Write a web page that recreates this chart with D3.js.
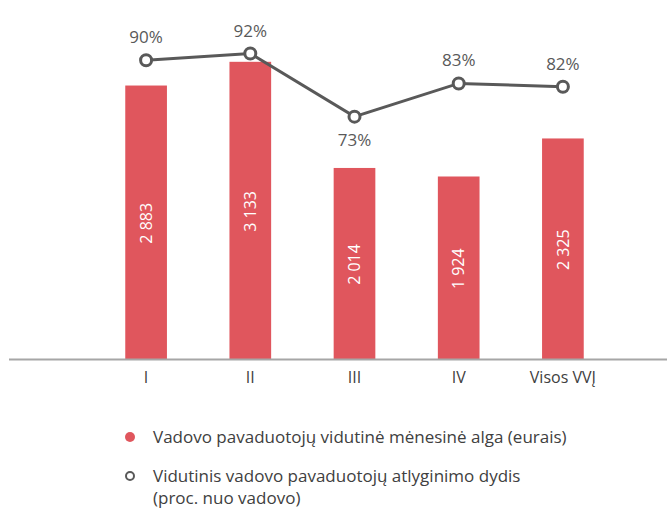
<!DOCTYPE html>
<html>
<head>
<meta charset="utf-8">
<script src="https://cdn.jsdelivr.net/npm/d3@7"></script>
<style>
  body { margin: 0; background: #fff; }
  svg text { font-family: "Open Sans", Lato, sans-serif; }
</style>
</head>
<body>
<div id="vis"></div>
<script>
'use strict';

// data
var categories = ['I', 'II', 'III', 'IV', 'Visos VVĮ'];
var salary = [2883, 3133, 2014, 1924, 2325];
var share = [0.90, 0.92, 0.73, 0.83, 0.82];
var shareLabelBelow = [false, false, true, false, false];
var legendLabels = [
    ['Vadovo pavaduotojų vidutinė mėnesinė alga (eurais)'],
    ['Vidutinis vadovo pavaduotojų atlyginimo dydis', '(proc. nuo vadovo)']
];

// layout
var W = 667, H = 510;
var baseY = 359, topY = 27;
var colors = { bar: '#E0565D', line: '#595959', text: '#404040', axis: '#A6A6A6' };

var svg = d3.select('#vis').append('svg')
    .attr('width', W)
    .attr('height', H);

var x = d3.scaleBand().domain(categories).range([94, 615]).paddingInner(0.6).paddingOuter(0.3);
var y = d3.scaleLinear().domain([0, 3500]).range([baseY, topY]);
var yPct = d3.scaleLinear().domain([0, 1]).range([baseY, topY]);

// bars
var bars = svg.append('g');
bars.selectAll('rect')
    .data(salary)
    .enter()
    .append('rect')
    .attr('x', function (d, i) { return x(categories[i]); })
    .attr('width', x.bandwidth())
    .attr('y', function (d) { return y(d); })
    .attr('height', function (d) { return baseY - y(d); })
    .attr('fill', colors.bar);

// value labels inside bars, rotated
bars.selectAll('text')
    .data(salary)
    .enter()
    .append('text')
    .attr('transform', function (d, i) {
        var cx = x(categories[i]) + x.bandwidth() / 2;
        var cy = (y(d) + baseY) / 2 + 1;
        return 'translate(' + cx + ',' + cy + ') rotate(-90)';
    })
    .attr('text-anchor', 'middle')
    .attr('dy', '0.35em')
    .attr('fill', '#fff')
    .style('font-size', '16px')
    .text(function (d) { return d3.format(',')(d).replace(',', ' '); });

// x axis
svg.append('line')
    .attr('x1', 9)
    .attr('x2', W)
    .attr('y1', baseY + 0.5)
    .attr('y2', baseY + 0.5)
    .attr('stroke', colors.axis)
    .attr('stroke-width', 2);

svg.append('g').selectAll('text')
    .data(categories)
    .enter()
    .append('text')
    .attr('x', function (d) { return x(d) + x.bandwidth() / 2; })
    .attr('y', 383)
    .attr('text-anchor', 'middle')
    .attr('fill', colors.text)
    .style('font-size', '16px')
    .text(function (d) { return d; });

// line of shares
var px = function (d, i) { return x(categories[i]) + x.bandwidth() / 2; };
var line = d3.line().x(px).y(function (d) { return yPct(d); });

svg.append('path')
    .datum(share)
    .attr('d', line)
    .attr('fill', 'none')
    .attr('stroke', colors.line)
    .attr('stroke-width', 3);

svg.append('g').selectAll('circle')
    .data(share)
    .enter()
    .append('circle')
    .attr('cx', px)
    .attr('cy', function (d) { return yPct(d); })
    .attr('r', 5.5)
    .attr('fill', '#fff')
    .attr('stroke', colors.line)
    .attr('stroke-width', 3);

svg.append('g').selectAll('text')
    .data(share)
    .enter()
    .append('text')
    .attr('x', px)
    .attr('y', function (d, i) { return yPct(d) + (shareLabelBelow[i] ? 23 : -23); })
    .attr('dy', '0.35em')
    .attr('text-anchor', 'middle')
    .attr('fill', colors.line)
    .style('font-size', '17px')
    .text(function (d) { return Math.round(d * 100) + '%'; });

// legend
var legend = svg.append('g');
legend.append('circle')
    .attr('cx', 130).attr('cy', 437).attr('r', 5)
    .attr('fill', colors.bar);
legend.append('circle')
    .attr('cx', 130).attr('cy', 476).attr('r', 4)
    .attr('fill', '#fff')
    .attr('stroke', colors.line)
    .attr('stroke-width', 2);

[437, 476].forEach(function (ly, i) {
    legendLabels[i].forEach(function (t, j) {
        legend.append('text')
            .attr('x', 153)
            .attr('y', ly + j * 22)
            .attr('dy', '0.35em')
            .attr('fill', colors.text)
            .style('font-size', '17px')
            .text(t);
    });
});
</script>
</body>
</html>
